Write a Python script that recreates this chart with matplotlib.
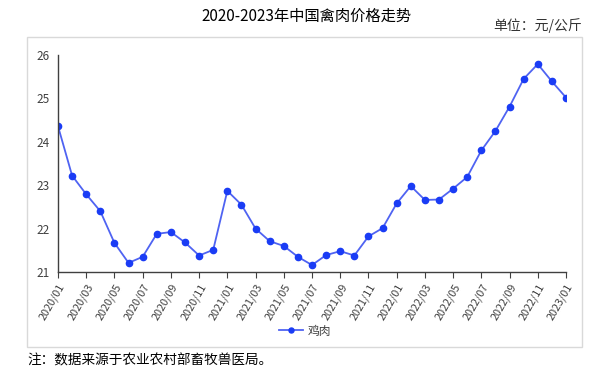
import matplotlib
matplotlib.use("Agg")
import matplotlib.pyplot as plt
from matplotlib.patches import Rectangle

plt.rcParams['font.family'] = ['Noto Sans CJK SC', 'DejaVu Sans']

months = []
for y in (2020, 2021, 2022):
    for m in range(1, 13):
        months.append(f"{y}/{m:02d}")
months.append("2023/01")

chicken = [24.36, 23.22, 22.79, 22.40, 21.67, 21.21, 21.35, 21.88, 21.92, 21.68,
           21.38, 21.51, 22.87, 22.55, 22.00, 21.71, 21.60, 21.35, 21.16, 21.39,
           21.48, 21.38, 21.82, 22.01, 22.58, 22.98, 22.66, 22.67, 22.92, 23.19,
           23.80, 24.25, 24.81, 25.45, 25.79, 25.39, 25.02]

yticks = [21, 22, 23, 24, 25, 26]
series_name = "鸡肉"
title = "2020-2023年中国禽肉价格走势"
unit = "单位：元/公斤"
note = "注：数据来源于农业农村部畜牧兽医局。"

fig = plt.figure(figsize=(6.13, 3.73), dpi=100)
fig.patches.append(Rectangle((27/613, 1-347/373), (582-27)/613, (347-37)/373,
                             transform=fig.transFigure, fill=False,
                             edgecolor='#d9d9d9', linewidth=1.0))
ax = fig.add_axes([58/613, 1-272/373, (566-58)/613, (272-55)/373])

x = list(range(len(months)))
ax.plot(x, chicken, color='#4f63f2', linewidth=1.3, marker='o', markersize=4.5,
        markerfacecolor='#1a3cf5', markeredgecolor='#1a3cf5', label=series_name)

ax.set_xlim(0, len(months) - 1)
ax.set_ylim(21, 26)
ax.set_yticks(yticks)
ax.set_yticklabels([str(v) for v in yticks], fontsize=8.5, color='#404040')
ax.tick_params(axis='y', length=0, pad=6)
ax.set_xticks(x[::2])
ax.set_xticklabels(months[::2], rotation=60, ha='right', rotation_mode='anchor',
                   fontsize=7.8, color='#404040')
ax.tick_params(axis='x', length=4, color='#404040', pad=3)
for s in ('top', 'right'):
    ax.spines[s].set_visible(False)
for s in ('left', 'bottom'):
    ax.spines[s].set_color('#404040')
    ax.spines[s].set_linewidth(1.0)

ax.legend(loc='center', bbox_to_anchor=(305/613, 1-331/373),
          bbox_transform=fig.transFigure, frameon=False, fontsize=8.5,
          handlelength=2.0, handletextpad=0.4, labelcolor='#404040',
          markerscale=0.8)

fig.text(306/613, 1-16/373, title, ha='center', va='center', fontsize=11, color='#000000')
fig.text(582/613, 1-26/373, unit, ha='right', va='center', fontsize=10, color='#333333')
fig.text(27/613, 1-360/373, note, ha='left', va='center', fontsize=9.8, color='#000000')

fig.savefig("out.png", dpi=100)
